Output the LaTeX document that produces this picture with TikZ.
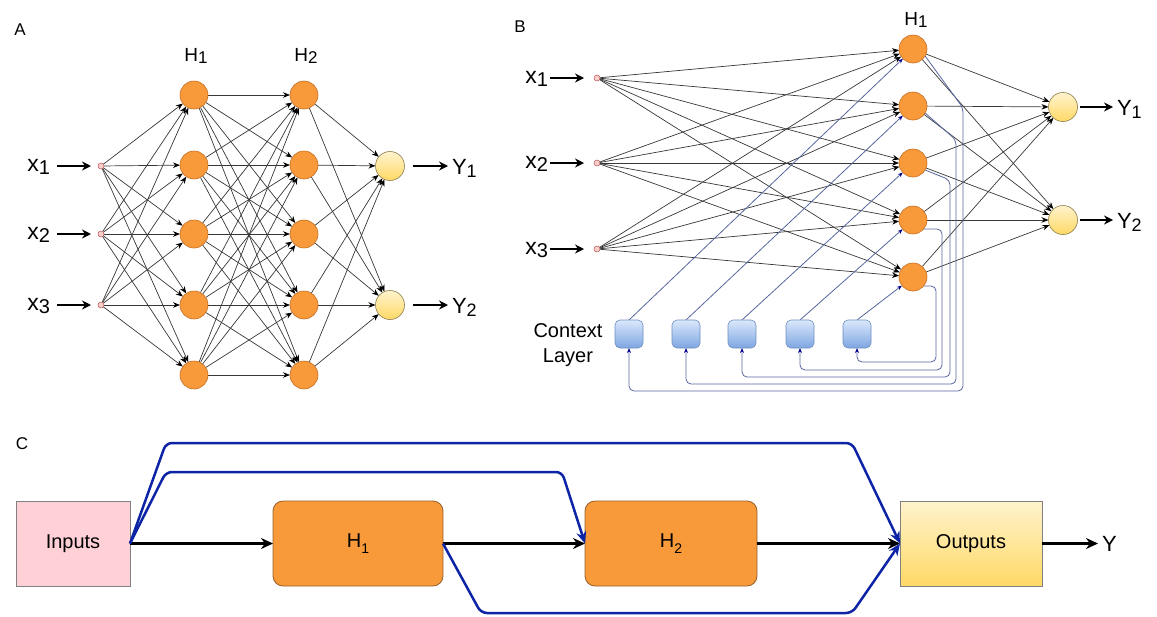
\documentclass[tikz,border=0pt]{standalone}
\usepackage{fontspec}
\setmainfont{Liberation Sans}
\usetikzlibrary{arrows.meta,calc}
\definecolor{orng}{RGB}{248,154,58}
\definecolor{orngd}{RGB}{196,110,35}
\definecolor{orngb}{RGB}{150,95,40}
\definecolor{pinkf}{RGB}{248,206,204}
\definecolor{pinkd}{RGB}{184,84,80}
\definecolor{pinkbox}{RGB}{255,208,214}
\definecolor{ylt}{RGB}{255,243,205}
\definecolor{ydk}{RGB}{255,217,102}
\definecolor{yst}{RGB}{140,125,75}
\definecolor{blt}{RGB}{218,232,252}
\definecolor{bdk}{RGB}{126,166,224}
\definecolor{bst}{RGB}{108,142,191}
\definecolor{ctxl}{RGB}{88,102,158}
\definecolor{ctxa}{RGB}{0,0,140}
\definecolor{skip}{RGB}{12,36,165}
\definecolor{edge}{RGB}{55,55,55}
\newcommand\dsub[3][0.14em]{\raisebox{-#1}{\fontsize{#2}{#2}\selectfont #3}}
\pgfdeclarelayer{bg}
\pgfsetlayers{bg,main}
\tikzset{
  every node/.style={inner sep=0pt, outer sep=0pt},
  hid/.style={circle, minimum size=28pt, fill=orng, draw=orngd, line width=0.6pt},
  inn/.style={circle, minimum size=6pt, fill=pinkf, draw=pinkd, line width=0.5pt},
  outn/.style={circle, minimum size=29pt, top color=ylt, bottom color=ydk, draw=yst, line width=0.6pt},
  ctx/.style={rounded corners=5pt, minimum width=28pt, minimum height=28pt, top color=blt, bottom color=bdk, draw=bst, line width=0.6pt},
  conn/.style={draw=edge, line width=0.7pt, -{Stealth[length=7pt,width=5.5pt,color=black]}},
  fb/.style={draw=ctxl, line width=0.8pt, rounded corners=5pt, -{Stealth[length=5pt,width=4pt,color=ctxa]}},
  ctxarr/.style={draw=ctxl, line width=0.8pt, -{Stealth[length=5pt,width=4pt,color=ctxa]}},
  bigarr/.style={draw=black, line width=2.2pt, -{Stealth[length=9pt,width=9pt]}},
  carr/.style={draw=black, line width=2.5pt, -{Stealth[length=12pt,width=11pt]}},
  skiparr/.style={draw=skip, line width=2.5pt, rounded corners=6pt, -{Stealth[length=12pt,width=10pt]}},
  plab/.style={font=\fontsize{17}{17}\selectfont},
  hlab/.style={font=\fontsize{19}{19}\selectfont, anchor=base},
  xlab/.style={font=\fontsize{23}{23}\selectfont, anchor=base east},
  ylab/.style={font=\fontsize{22}{22}\selectfont, anchor=base west},
  boxtxt/.style={font=\fontsize{20}{20}\selectfont},
  inbox/.style={minimum width=114pt, minimum height=85pt, fill=pinkbox, draw=gray, line width=0.8pt, boxtxt},
  hbox/.style={minimum height=85pt, rounded corners=10pt, fill=orng, draw=orngb, line width=0.8pt, boxtxt},
  obox/.style={minimum width=142pt, minimum height=85pt, top color=ylt, bottom color=ydk, draw=gray, line width=0.8pt, boxtxt},
}
\begin{document}
\begin{tikzpicture}[x=1pt,y=-1pt]
\path[use as bounding box] (0,0) rectangle (1157,616);

% ---------------- Panel A ----------------
\node[plab] (labA) at (20,30) {A};
\node[hlab] (aH1) at (196,61) {H\dsub{17}{1}};
\node[hlab] (aH2) at (306,61) {H\dsub{17}{2}};
\foreach \i/\y in {1/95,2/165,3/234,4/305,5/375} {
  \node[hid] (a1\i) at (194,\y) {};
  \node[hid] (a2\i) at (304,\y) {};
}
\foreach \i/\y in {1/166,2/234,3/305} {
  \node[inn] (ai\i) at (101,\y) {};
  \node[xlab] (ax\i) at (50,\y+5) {x\dsub{20}{\i}};
  \draw[bigarr, shorten <=7pt, shorten >=7pt] (ax\i.east |- ai\i) -- (ai\i.west);
}
\foreach \i/\y in {1/166,2/305} {
  \node[outn] (ao\i) at (390,\y) {};
  \node[ylab] (ay\i) at (452,\y+8) {Y\dsub{18}{\i}};
  \draw[bigarr, shorten <=8pt, shorten >=4pt] (ao\i.east) -- (ay\i.west |- ao\i);
}
\begin{pgfonlayer}{bg}
  \foreach \i in {1,2,3} \foreach \j in {1,...,5} \draw[conn] (ai\i) -- (a1\j);
  \foreach \i in {1,...,5} \foreach \j in {1,...,5} \draw[conn] (a1\i) -- (a2\j);
  \foreach \i in {1,...,5} \foreach \j in {1,2} \draw[conn] (a2\i) -- (ao\j);
\end{pgfonlayer}

% ---------------- Panel B ----------------
\node[plab] (labB) at (520,27) {B};
\node[hlab] (bH1) at (916,25) {H\dsub{17}{1}};
\foreach \i/\y in {1/49,2/106,3/163,4/220,5/277} {
  \node[hid] (bh\i) at (913,\y) {};
}
\foreach \i/\y in {1/78,2/163,3/249} {
  \node[inn] (bi\i) at (597,\y) {};
  \node[xlab] (bx\i) at (548,\y+5) {x\dsub{20}{\i}};
  \draw[bigarr, shorten <=2pt, shorten >=10pt] (bx\i.east |- bi\i) -- (bi\i.west);
}
\foreach \i/\y in {1/107,2/220} {
  \node[outn] (bo\i) at (1063,\y) {};
  \node[ylab] (by\i) at (1117,\y+8) {Y\dsub{18}{\i}};
  \draw[bigarr, shorten <=2pt, shorten >=4pt] (bo\i.east) -- (by\i.west |- bo\i);
}
\foreach \i/\x in {1/629,2/686,3/742,4/800,5/857} {
  \node[ctx] (c\i) at (\x,334) {};
}
\node[font=\fontsize{20}{25}\selectfont, align=center] (ctxlab) at (568,345) {Context\\Layer};
\begin{pgfonlayer}{bg}
  \foreach \i in {1,2,3} \foreach \j in {1,...,5} \draw[conn] (bi\i) -- (bh\j);
  \foreach \i in {1,...,5} \foreach \j in {1,2} \draw[conn] (bh\i) -- (bo\j);
  \foreach \i in {1,...,5} \draw[ctxarr] (c\i.north) -- (bh\i);
  \draw[fb] (bh1.-30) -- (963,108) -- (963,391) -- (629,391) -- (c1.south);
  \draw[fb] (bh2.-30) -- (956,140) -- (956,384) -- (686,384) -- (c2.south);
  \draw[fb] (bh3.-30) -- (950,180) -- (950,377) -- (742,377) -- (c3.south);
  \draw[fb] (bh4.-40) -- (942,229) -- (942,370) -- (800,370) -- (c4.south);
  \draw[fb] (bh5.-40) -- (936,286) -- (936,362) -- (857,362) -- (c5.south);
\end{pgfonlayer}

% ---------------- Panel C ----------------
\node[plab] (labC) at (22,444) {C};
\node[inbox] (ci) at (73,543.5) {Inputs};
\node[hbox, minimum width=170pt] (ch1) at (358,543.5) {H\dsub[0.3em]{14}{1}};
\node[hbox, minimum width=172pt] (ch2) at (671,543.5) {H\dsub[0.3em]{14}{2}};
\node[obox] (co) at (971,543.5) {Outputs};
\node[font=\fontsize{22}{22}\selectfont, anchor=west] (cy) at (1102,543.5) {Y};
\draw[carr] (ci.east) -- (ch1.west);
\draw[carr] (ch1.east) -- (ch2.west);
\draw[carr] (ch2.east) -- (co.west);
\draw[carr, shorten >=4pt] (co.east) -- (cy.west);
\draw[skiparr] (ci.east) -- (166,443) -- (852,443) -- (co.west);
\draw[skiparr] (ci.east) -- (166,472) -- (562,472) -- (ch2.west);
\draw[skiparr] (ch1.east) -- (481,613) -- (852,613) -- (co.west);
\end{tikzpicture}
\end{document}
